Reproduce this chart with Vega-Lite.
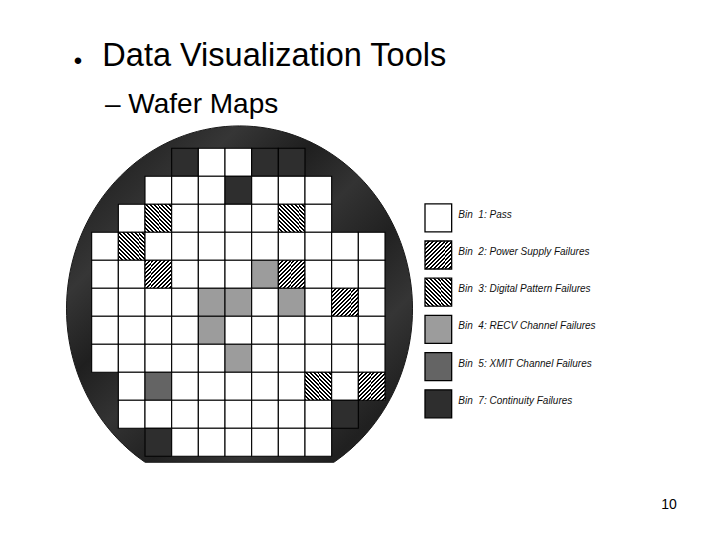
{
  "$schema": "https://vega.github.io/schema/vega-lite/v6.json",
  "width": 720,
  "height": 540,
  "autosize": {"type": "fit", "contains": "padding"},
  "padding": 0,
  "background": "#ffffff",
  "config": {"view": {"stroke": null}, "font": "Liberation Sans"},
  "datasets": {
    "cells": [
      {"col": 3, "row": 0, "bin": 7}, {"col": 4, "row": 0, "bin": 1}, {"col": 5, "row": 0, "bin": 1}, {"col": 6, "row": 0, "bin": 7}, {"col": 7, "row": 0, "bin": 7},
      {"col": 2, "row": 1, "bin": 1}, {"col": 3, "row": 1, "bin": 1}, {"col": 4, "row": 1, "bin": 1}, {"col": 5, "row": 1, "bin": 7}, {"col": 6, "row": 1, "bin": 1}, {"col": 7, "row": 1, "bin": 1}, {"col": 8, "row": 1, "bin": 1},
      {"col": 1, "row": 2, "bin": 1}, {"col": 2, "row": 2, "bin": 3}, {"col": 3, "row": 2, "bin": 1}, {"col": 4, "row": 2, "bin": 1}, {"col": 5, "row": 2, "bin": 1}, {"col": 6, "row": 2, "bin": 1}, {"col": 7, "row": 2, "bin": 3}, {"col": 8, "row": 2, "bin": 1},
      {"col": 0, "row": 3, "bin": 1}, {"col": 1, "row": 3, "bin": 3}, {"col": 2, "row": 3, "bin": 1}, {"col": 3, "row": 3, "bin": 1}, {"col": 4, "row": 3, "bin": 1}, {"col": 5, "row": 3, "bin": 1}, {"col": 6, "row": 3, "bin": 1}, {"col": 7, "row": 3, "bin": 1}, {"col": 8, "row": 3, "bin": 1}, {"col": 9, "row": 3, "bin": 1}, {"col": 10, "row": 3, "bin": 1},
      {"col": 0, "row": 4, "bin": 1}, {"col": 1, "row": 4, "bin": 1}, {"col": 2, "row": 4, "bin": 2}, {"col": 3, "row": 4, "bin": 1}, {"col": 4, "row": 4, "bin": 1}, {"col": 5, "row": 4, "bin": 1}, {"col": 6, "row": 4, "bin": 4}, {"col": 7, "row": 4, "bin": 2}, {"col": 8, "row": 4, "bin": 1}, {"col": 9, "row": 4, "bin": 1}, {"col": 10, "row": 4, "bin": 1},
      {"col": 0, "row": 5, "bin": 1}, {"col": 1, "row": 5, "bin": 1}, {"col": 2, "row": 5, "bin": 1}, {"col": 3, "row": 5, "bin": 1}, {"col": 4, "row": 5, "bin": 4}, {"col": 5, "row": 5, "bin": 4}, {"col": 6, "row": 5, "bin": 1}, {"col": 7, "row": 5, "bin": 4}, {"col": 8, "row": 5, "bin": 1}, {"col": 9, "row": 5, "bin": 2}, {"col": 10, "row": 5, "bin": 1},
      {"col": 0, "row": 6, "bin": 1}, {"col": 1, "row": 6, "bin": 1}, {"col": 2, "row": 6, "bin": 1}, {"col": 3, "row": 6, "bin": 1}, {"col": 4, "row": 6, "bin": 4}, {"col": 5, "row": 6, "bin": 1}, {"col": 6, "row": 6, "bin": 1}, {"col": 7, "row": 6, "bin": 1}, {"col": 8, "row": 6, "bin": 1}, {"col": 9, "row": 6, "bin": 1}, {"col": 10, "row": 6, "bin": 1},
      {"col": 0, "row": 7, "bin": 1}, {"col": 1, "row": 7, "bin": 1}, {"col": 2, "row": 7, "bin": 1}, {"col": 3, "row": 7, "bin": 1}, {"col": 4, "row": 7, "bin": 1}, {"col": 5, "row": 7, "bin": 4}, {"col": 6, "row": 7, "bin": 1}, {"col": 7, "row": 7, "bin": 1}, {"col": 8, "row": 7, "bin": 1}, {"col": 9, "row": 7, "bin": 1}, {"col": 10, "row": 7, "bin": 1},
      {"col": 1, "row": 8, "bin": 1}, {"col": 2, "row": 8, "bin": 5}, {"col": 3, "row": 8, "bin": 1}, {"col": 4, "row": 8, "bin": 1}, {"col": 5, "row": 8, "bin": 1}, {"col": 6, "row": 8, "bin": 1}, {"col": 7, "row": 8, "bin": 1}, {"col": 8, "row": 8, "bin": 3}, {"col": 9, "row": 8, "bin": 1}, {"col": 10, "row": 8, "bin": 2},
      {"col": 1, "row": 9, "bin": 1}, {"col": 2, "row": 9, "bin": 1}, {"col": 3, "row": 9, "bin": 1}, {"col": 4, "row": 9, "bin": 1}, {"col": 5, "row": 9, "bin": 1}, {"col": 6, "row": 9, "bin": 1}, {"col": 7, "row": 9, "bin": 1}, {"col": 8, "row": 9, "bin": 1}, {"col": 9, "row": 9, "bin": 7},
      {"col": 2, "row": 10, "bin": 7}, {"col": 3, "row": 10, "bin": 1}, {"col": 4, "row": 10, "bin": 1}, {"col": 5, "row": 10, "bin": 1}, {"col": 6, "row": 10, "bin": 1}, {"col": 7, "row": 10, "bin": 1}, {"col": 8, "row": 10, "bin": 1}
    ],
    "legend": [
      {"order": 1, "bin": 1, "label": "Bin\u00a0 1: Pass"},
      {"order": 2, "bin": 2, "label": "Bin\u00a0 2: Power Supply Failures"},
      {"order": 3, "bin": 3, "label": "Bin\u00a0 3: Digital Pattern Failures"},
      {"order": 4, "bin": 4, "label": "Bin\u00a0 4: RECV Channel Failures"},
      {"order": 5, "bin": 5, "label": "Bin\u00a0 5: XMIT Channel Failures"},
      {"order": 6, "bin": 7, "label": "Bin\u00a0 7: Continuity Failures"}
    ]
  },
  "layer": [
    {
      "layer": [
        {
          "data": {"values": [{"item": "wafer"}]},
          "mark": {"type": "point", "shape": "M -0.5457 0.886 A 1 1.0578 0 1 1 0.5457 0.886 Z", "size": 119716, "filled": true, "opacity": 1, "strokeWidth": 1, "stroke": "#1a1a1a",
            "fill": {"gradient": "linear", "x1": 0, "y1": 0, "x2": 1, "y2": 1, "stops": [
              {"offset": 0, "color": "#3a3a3a"}, {"offset": 0.12, "color": "#232323"}, {"offset": 0.25, "color": "#363636"}, {"offset": 0.38, "color": "#1f1f1f"}, {"offset": 0.5, "color": "#333333"}, {"offset": 0.62, "color": "#212121"}, {"offset": 0.75, "color": "#353535"}, {"offset": 0.88, "color": "#202020"}, {"offset": 1, "color": "#2e2e2e"}]}},
          "encoding": {
            "x": {"datum": 5.044, "type": "quantitative", "scale": {"domain": [-3.9375, 23.0625], "nice": false, "zero": false}, "axis": null},
            "y": {"datum": 5.239, "type": "quantitative", "scale": {"domain": [-5.7964, 13.4893], "nice": false, "zero": false, "reverse": true}, "axis": null}
          }
        },
        {
          "data": {"name": "cells"},
          "mark": {"type": "point", "shape": "M -1 -1.05 H 1 V 1.05 H -1 Z", "size": 711.1, "filled": true, "opacity": 1, "stroke": "#000000", "strokeWidth": 1.1},
          "encoding": {
            "x": {"field": "col", "type": "quantitative", "scale": {"domain": [-3.9375, 23.0625], "nice": false, "zero": false}, "axis": null},
            "y": {"field": "row", "type": "quantitative", "scale": {"domain": [-5.7964, 13.4893], "nice": false, "zero": false, "reverse": true}, "axis": null},
            "fill": {
              "condition": [
                {"test": "datum.bin === 2", "value": {"gradient": "linear", "x1": 0, "y1": 0, "x2": 1, "y2": 1, "stops": [
                  {"offset": 0, "color": "#000"}, {"offset": 0.0357, "color": "#000"}, {"offset": 0.0357, "color": "#fff"}, {"offset": 0.0714, "color": "#fff"},
                  {"offset": 0.0714, "color": "#000"}, {"offset": 0.1071, "color": "#000"}, {"offset": 0.1071, "color": "#fff"}, {"offset": 0.1429, "color": "#fff"},
                  {"offset": 0.1429, "color": "#000"}, {"offset": 0.1786, "color": "#000"}, {"offset": 0.1786, "color": "#fff"}, {"offset": 0.2143, "color": "#fff"},
                  {"offset": 0.2143, "color": "#000"}, {"offset": 0.25, "color": "#000"}, {"offset": 0.25, "color": "#fff"}, {"offset": 0.2857, "color": "#fff"},
                  {"offset": 0.2857, "color": "#000"}, {"offset": 0.3214, "color": "#000"}, {"offset": 0.3214, "color": "#fff"}, {"offset": 0.3571, "color": "#fff"},
                  {"offset": 0.3571, "color": "#000"}, {"offset": 0.3929, "color": "#000"}, {"offset": 0.3929, "color": "#fff"}, {"offset": 0.4286, "color": "#fff"},
                  {"offset": 0.4286, "color": "#000"}, {"offset": 0.4643, "color": "#000"}, {"offset": 0.4643, "color": "#fff"}, {"offset": 0.5, "color": "#fff"},
                  {"offset": 0.5, "color": "#000"}, {"offset": 0.5357, "color": "#000"}, {"offset": 0.5357, "color": "#fff"}, {"offset": 0.5714, "color": "#fff"},
                  {"offset": 0.5714, "color": "#000"}, {"offset": 0.6071, "color": "#000"}, {"offset": 0.6071, "color": "#fff"}, {"offset": 0.6429, "color": "#fff"},
                  {"offset": 0.6429, "color": "#000"}, {"offset": 0.6786, "color": "#000"}, {"offset": 0.6786, "color": "#fff"}, {"offset": 0.7143, "color": "#fff"},
                  {"offset": 0.7143, "color": "#000"}, {"offset": 0.75, "color": "#000"}, {"offset": 0.75, "color": "#fff"}, {"offset": 0.7857, "color": "#fff"},
                  {"offset": 0.7857, "color": "#000"}, {"offset": 0.8214, "color": "#000"}, {"offset": 0.8214, "color": "#fff"}, {"offset": 0.8571, "color": "#fff"},
                  {"offset": 0.8571, "color": "#000"}, {"offset": 0.8929, "color": "#000"}, {"offset": 0.8929, "color": "#fff"}, {"offset": 0.9286, "color": "#fff"},
                  {"offset": 0.9286, "color": "#000"}, {"offset": 0.9643, "color": "#000"}, {"offset": 0.9643, "color": "#fff"}, {"offset": 1, "color": "#fff"}]}},
                {"test": "datum.bin === 3", "value": {"gradient": "linear", "x1": 0, "y1": 1, "x2": 1, "y2": 0, "stops": [
                  {"offset": 0, "color": "#000"}, {"offset": 0.0357, "color": "#000"}, {"offset": 0.0357, "color": "#fff"}, {"offset": 0.0714, "color": "#fff"},
                  {"offset": 0.0714, "color": "#000"}, {"offset": 0.1071, "color": "#000"}, {"offset": 0.1071, "color": "#fff"}, {"offset": 0.1429, "color": "#fff"},
                  {"offset": 0.1429, "color": "#000"}, {"offset": 0.1786, "color": "#000"}, {"offset": 0.1786, "color": "#fff"}, {"offset": 0.2143, "color": "#fff"},
                  {"offset": 0.2143, "color": "#000"}, {"offset": 0.25, "color": "#000"}, {"offset": 0.25, "color": "#fff"}, {"offset": 0.2857, "color": "#fff"},
                  {"offset": 0.2857, "color": "#000"}, {"offset": 0.3214, "color": "#000"}, {"offset": 0.3214, "color": "#fff"}, {"offset": 0.3571, "color": "#fff"},
                  {"offset": 0.3571, "color": "#000"}, {"offset": 0.3929, "color": "#000"}, {"offset": 0.3929, "color": "#fff"}, {"offset": 0.4286, "color": "#fff"},
                  {"offset": 0.4286, "color": "#000"}, {"offset": 0.4643, "color": "#000"}, {"offset": 0.4643, "color": "#fff"}, {"offset": 0.5, "color": "#fff"},
                  {"offset": 0.5, "color": "#000"}, {"offset": 0.5357, "color": "#000"}, {"offset": 0.5357, "color": "#fff"}, {"offset": 0.5714, "color": "#fff"},
                  {"offset": 0.5714, "color": "#000"}, {"offset": 0.6071, "color": "#000"}, {"offset": 0.6071, "color": "#fff"}, {"offset": 0.6429, "color": "#fff"},
                  {"offset": 0.6429, "color": "#000"}, {"offset": 0.6786, "color": "#000"}, {"offset": 0.6786, "color": "#fff"}, {"offset": 0.7143, "color": "#fff"},
                  {"offset": 0.7143, "color": "#000"}, {"offset": 0.75, "color": "#000"}, {"offset": 0.75, "color": "#fff"}, {"offset": 0.7857, "color": "#fff"},
                  {"offset": 0.7857, "color": "#000"}, {"offset": 0.8214, "color": "#000"}, {"offset": 0.8214, "color": "#fff"}, {"offset": 0.8571, "color": "#fff"},
                  {"offset": 0.8571, "color": "#000"}, {"offset": 0.8929, "color": "#000"}, {"offset": 0.8929, "color": "#fff"}, {"offset": 0.9286, "color": "#fff"},
                  {"offset": 0.9286, "color": "#000"}, {"offset": 0.9643, "color": "#000"}, {"offset": 0.9643, "color": "#fff"}, {"offset": 1, "color": "#fff"}]}},
                {"test": "datum.bin === 4", "value": "#9c9c9c"},
                {"test": "datum.bin === 5", "value": "#646464"},
                {"test": "datum.bin === 7", "value": "#2e2e2e"}
              ],
              "value": "#ffffff"
            }
          }
        },
        {
          "data": {"values": [{"t": "•"}]},
          "mark": {"type": "text", "fontSize": 24, "align": "center", "baseline": "middle", "color": "#000000"},
          "encoding": {
            "text": {"field": "t"},
            "x": {"datum": -1.0125, "type": "quantitative", "scale": {"domain": [-3.9375, 23.0625], "nice": false, "zero": false}, "axis": null},
            "y": {"datum": -3.582, "type": "quantitative", "scale": {"domain": [-5.7964, 13.4893], "nice": false, "zero": false, "reverse": true}, "axis": null}
          }
        },
        {
          "data": {"values": [{"t": "Data Visualization Tools"}]},
          "mark": {"type": "text", "fontSize": 32.5, "align": "left", "baseline": "alphabetic", "color": "#000000"},
          "encoding": {
            "text": {"field": "t"},
            "x": {"datum": -0.1, "type": "quantitative", "scale": {"domain": [-3.9375, 23.0625], "nice": false, "zero": false}, "axis": null},
            "y": {"datum": -3.45, "type": "quantitative", "scale": {"domain": [-5.7964, 13.4893], "nice": false, "zero": false, "reverse": true}, "axis": null}
          }
        },
        {
          "data": {"values": [{"t": "– Wafer Maps"}]},
          "mark": {"type": "text", "fontSize": 28, "align": "left", "baseline": "alphabetic", "color": "#000000"},
          "encoding": {
            "text": {"field": "t"},
            "x": {"datum": 0, "type": "quantitative", "scale": {"domain": [-3.9375, 23.0625], "nice": false, "zero": false}, "axis": null},
            "y": {"datum": -1.761, "type": "quantitative", "scale": {"domain": [-5.7964, 13.4893], "nice": false, "zero": false, "reverse": true}, "axis": null}
          }
        },
        {
          "data": {"values": [{"t": "10"}]},
          "mark": {"type": "text", "fontSize": 14, "align": "center", "baseline": "alphabetic", "color": "#000000"},
          "encoding": {
            "text": {"field": "t"},
            "x": {"datum": 21.15, "type": "quantitative", "scale": {"domain": [-3.9375, 23.0625], "nice": false, "zero": false}, "axis": null},
            "y": {"datum": 12.393, "type": "quantitative", "scale": {"domain": [-5.7964, 13.4893], "nice": false, "zero": false, "reverse": true}, "axis": null}
          }
        }
      ]
    },
    {
      "data": {"name": "legend"},
      "layer": [
        {
          "mark": {"type": "point", "shape": "M -1 -1.05 H 1 V 1.05 H -1 Z", "size": 711.1, "filled": true, "opacity": 1, "stroke": "#000000", "strokeWidth": 1.3},
          "encoding": {
            "x": {"datum": 12.5, "type": "quantitative", "scale": {"domain": [-3.9375, 23.0625], "nice": false, "zero": false}, "axis": null},
            "y": {"field": "order", "type": "quantitative", "scale": {"domain": [-4.855, 9.661], "nice": false, "zero": false, "reverse": true}, "axis": null},
            "fill": {
              "condition": [
                {"test": "datum.bin === 2", "value": {"gradient": "linear", "x1": 0, "y1": 0, "x2": 1, "y2": 1, "stops": [
                  {"offset": 0, "color": "#000"}, {"offset": 0.0357, "color": "#000"}, {"offset": 0.0357, "color": "#fff"}, {"offset": 0.0714, "color": "#fff"},
                  {"offset": 0.0714, "color": "#000"}, {"offset": 0.1071, "color": "#000"}, {"offset": 0.1071, "color": "#fff"}, {"offset": 0.1429, "color": "#fff"},
                  {"offset": 0.1429, "color": "#000"}, {"offset": 0.1786, "color": "#000"}, {"offset": 0.1786, "color": "#fff"}, {"offset": 0.2143, "color": "#fff"},
                  {"offset": 0.2143, "color": "#000"}, {"offset": 0.25, "color": "#000"}, {"offset": 0.25, "color": "#fff"}, {"offset": 0.2857, "color": "#fff"},
                  {"offset": 0.2857, "color": "#000"}, {"offset": 0.3214, "color": "#000"}, {"offset": 0.3214, "color": "#fff"}, {"offset": 0.3571, "color": "#fff"},
                  {"offset": 0.3571, "color": "#000"}, {"offset": 0.3929, "color": "#000"}, {"offset": 0.3929, "color": "#fff"}, {"offset": 0.4286, "color": "#fff"},
                  {"offset": 0.4286, "color": "#000"}, {"offset": 0.4643, "color": "#000"}, {"offset": 0.4643, "color": "#fff"}, {"offset": 0.5, "color": "#fff"},
                  {"offset": 0.5, "color": "#000"}, {"offset": 0.5357, "color": "#000"}, {"offset": 0.5357, "color": "#fff"}, {"offset": 0.5714, "color": "#fff"},
                  {"offset": 0.5714, "color": "#000"}, {"offset": 0.6071, "color": "#000"}, {"offset": 0.6071, "color": "#fff"}, {"offset": 0.6429, "color": "#fff"},
                  {"offset": 0.6429, "color": "#000"}, {"offset": 0.6786, "color": "#000"}, {"offset": 0.6786, "color": "#fff"}, {"offset": 0.7143, "color": "#fff"},
                  {"offset": 0.7143, "color": "#000"}, {"offset": 0.75, "color": "#000"}, {"offset": 0.75, "color": "#fff"}, {"offset": 0.7857, "color": "#fff"},
                  {"offset": 0.7857, "color": "#000"}, {"offset": 0.8214, "color": "#000"}, {"offset": 0.8214, "color": "#fff"}, {"offset": 0.8571, "color": "#fff"},
                  {"offset": 0.8571, "color": "#000"}, {"offset": 0.8929, "color": "#000"}, {"offset": 0.8929, "color": "#fff"}, {"offset": 0.9286, "color": "#fff"},
                  {"offset": 0.9286, "color": "#000"}, {"offset": 0.9643, "color": "#000"}, {"offset": 0.9643, "color": "#fff"}, {"offset": 1, "color": "#fff"}]}},
                {"test": "datum.bin === 3", "value": {"gradient": "linear", "x1": 0, "y1": 1, "x2": 1, "y2": 0, "stops": [
                  {"offset": 0, "color": "#000"}, {"offset": 0.0357, "color": "#000"}, {"offset": 0.0357, "color": "#fff"}, {"offset": 0.0714, "color": "#fff"},
                  {"offset": 0.0714, "color": "#000"}, {"offset": 0.1071, "color": "#000"}, {"offset": 0.1071, "color": "#fff"}, {"offset": 0.1429, "color": "#fff"},
                  {"offset": 0.1429, "color": "#000"}, {"offset": 0.1786, "color": "#000"}, {"offset": 0.1786, "color": "#fff"}, {"offset": 0.2143, "color": "#fff"},
                  {"offset": 0.2143, "color": "#000"}, {"offset": 0.25, "color": "#000"}, {"offset": 0.25, "color": "#fff"}, {"offset": 0.2857, "color": "#fff"},
                  {"offset": 0.2857, "color": "#000"}, {"offset": 0.3214, "color": "#000"}, {"offset": 0.3214, "color": "#fff"}, {"offset": 0.3571, "color": "#fff"},
                  {"offset": 0.3571, "color": "#000"}, {"offset": 0.3929, "color": "#000"}, {"offset": 0.3929, "color": "#fff"}, {"offset": 0.4286, "color": "#fff"},
                  {"offset": 0.4286, "color": "#000"}, {"offset": 0.4643, "color": "#000"}, {"offset": 0.4643, "color": "#fff"}, {"offset": 0.5, "color": "#fff"},
                  {"offset": 0.5, "color": "#000"}, {"offset": 0.5357, "color": "#000"}, {"offset": 0.5357, "color": "#fff"}, {"offset": 0.5714, "color": "#fff"},
                  {"offset": 0.5714, "color": "#000"}, {"offset": 0.6071, "color": "#000"}, {"offset": 0.6071, "color": "#fff"}, {"offset": 0.6429, "color": "#fff"},
                  {"offset": 0.6429, "color": "#000"}, {"offset": 0.6786, "color": "#000"}, {"offset": 0.6786, "color": "#fff"}, {"offset": 0.7143, "color": "#fff"},
                  {"offset": 0.7143, "color": "#000"}, {"offset": 0.75, "color": "#000"}, {"offset": 0.75, "color": "#fff"}, {"offset": 0.7857, "color": "#fff"},
                  {"offset": 0.7857, "color": "#000"}, {"offset": 0.8214, "color": "#000"}, {"offset": 0.8214, "color": "#fff"}, {"offset": 0.8571, "color": "#fff"},
                  {"offset": 0.8571, "color": "#000"}, {"offset": 0.8929, "color": "#000"}, {"offset": 0.8929, "color": "#fff"}, {"offset": 0.9286, "color": "#fff"},
                  {"offset": 0.9286, "color": "#000"}, {"offset": 0.9643, "color": "#000"}, {"offset": 0.9643, "color": "#fff"}, {"offset": 1, "color": "#fff"}]}},
                {"test": "datum.bin === 4", "value": "#9c9c9c"},
                {"test": "datum.bin === 5", "value": "#646464"},
                {"test": "datum.bin === 7", "value": "#2e2e2e"}
              ],
              "value": "#ffffff"
            }
          }
        },
        {
          "mark": {"type": "text", "fontSize": 10, "fontStyle": "italic", "align": "left", "baseline": "middle", "dy": -3, "color": "#111111"},
          "encoding": {
            "text": {"field": "label"},
            "x": {"datum": 13.25, "type": "quantitative", "scale": {"domain": [-3.9375, 23.0625], "nice": false, "zero": false}, "axis": null},
            "y": {"field": "order", "type": "quantitative", "scale": {"domain": [-4.855, 9.661], "nice": false, "zero": false, "reverse": true}, "axis": null}
          }
        }
      ]
    }
  ],
  "resolve": {"scale": {"y": "independent"}}
}
